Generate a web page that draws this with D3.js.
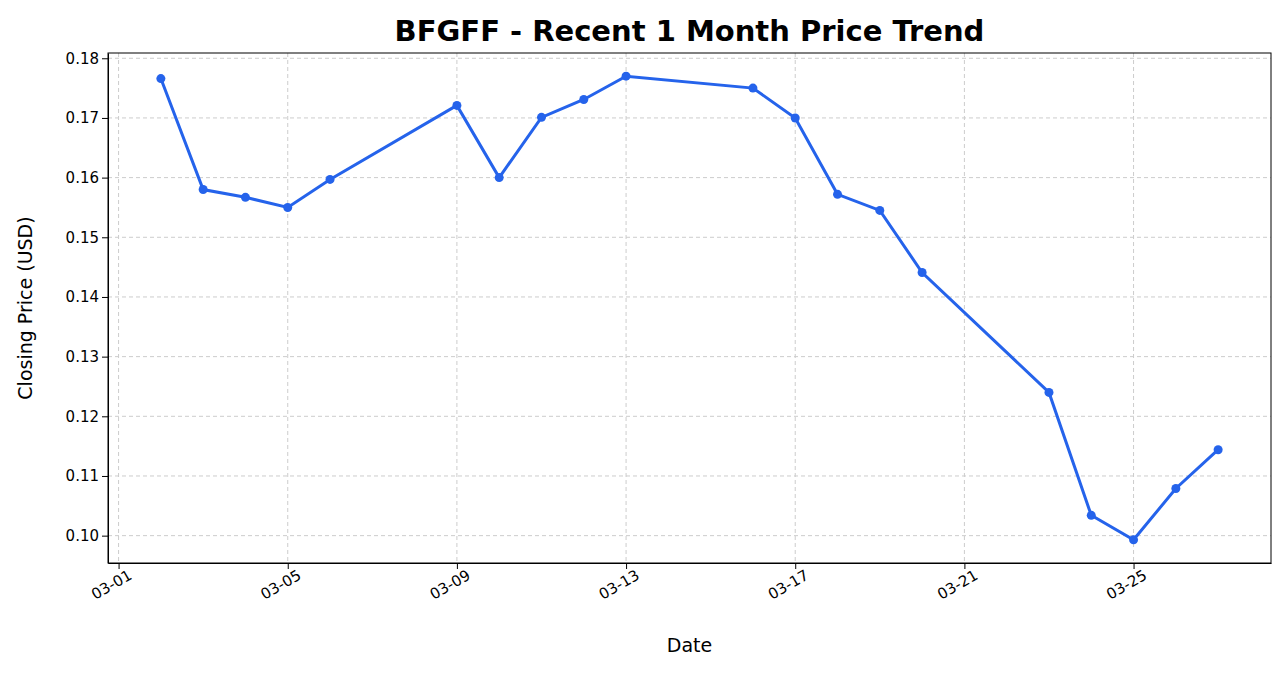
<!DOCTYPE html>
<html><head><meta charset="utf-8">
<script src="https://cdn.jsdelivr.net/npm/d3@7"></script>
<style>body{margin:0;background:#fff;font-family:"DejaVu Sans",sans-serif}
.tick text{font-size:15px;font-family:"DejaVu Sans",sans-serif;fill:#000}</style>
</head><body>
<svg id="chart"></svg>
<script>
// 数据
const dates = ["2025-03-02","2025-03-03","2025-03-04","2025-03-05","2025-03-06","2025-03-09","2025-03-10","2025-03-11","2025-03-12","2025-03-13","2025-03-16","2025-03-17","2025-03-18","2025-03-19","2025-03-20","2025-03-23","2025-03-24","2025-03-25","2025-03-26","2025-03-27"];
const prices = [0.1766,0.158,0.1567,0.155,0.1597,0.1721,0.160,0.1701,0.1731,0.177,0.175,0.170,0.1572,0.1545,0.1441,0.124,0.1034,0.0993,0.1079,0.1144];
const xTickDates = ["2025-03-01","2025-03-05","2025-03-09","2025-03-13","2025-03-17","2025-03-21","2025-03-25"];
const yTicks = [0.10,0.11,0.12,0.13,0.14,0.15,0.16,0.17,0.18];

const W = 1285, H = 673;
const margin = { top: 53, right: 14, bottom: 110, left: 108 };
const width = W - margin.left - margin.right;
const height = H - margin.top - margin.bottom;
const parse = d3.utcParse("%Y-%m-%d");
const data = dates.map((d, i) => ({ date: parse(d), price: prices[i] }));

const svg = d3.select("#chart").attr("width", W).attr("height", H);
const g = svg.append("g").attr("transform", `translate(${margin.left},${margin.top})`);

const [x0, x1] = d3.extent(data, d => d.date);
const xPad = (x1 - x0) * 0.05;
const x = d3.scaleUtc().domain([new Date(+x0 - xPad), new Date(+x1 + xPad)]).range([0, width]);
const [y0, y1] = d3.extent(prices);
const yPad = (y1 - y0) * 0.05;
const y = d3.scaleLinear().domain([y0 - yPad, y1 + yPad]).range([height, 0]);
const xTicks = xTickDates.map(parse);

// 网格
g.append("g").selectAll("line").data(xTicks).enter().append("line")
  .attr("x1", d => x(d)).attr("x2", d => x(d)).attr("y1", 0).attr("y2", height)
  .attr("stroke", "#ccc").attr("stroke-dasharray", "4,3");
g.append("g").selectAll("line").data(yTicks).enter().append("line")
  .attr("y1", d => y(d)).attr("y2", d => y(d)).attr("x1", 0).attr("x2", width)
  .attr("stroke", "#ccc").attr("stroke-dasharray", "4,3");

// 坐标轴
const xAxis = g.append("g").attr("transform", `translate(0,${height})`)
  .call(d3.axisBottom(x).tickValues(xTicks).tickFormat(d3.utcFormat("%m-%d")).tickSizeOuter(0));
xAxis.selectAll("text").attr("transform", "rotate(-30)").attr("text-anchor", "end")
  .attr("dx", "0.3em").attr("dy", "0.75em");
const yAxis = g.append("g").call(d3.axisLeft(y).tickValues(yTicks).tickFormat(d3.format(".2f")).tickSizeOuter(0));
[xAxis, yAxis].forEach(a => {
  a.attr("font-size", 15).attr("font-family", "DejaVu Sans");
  a.selectAll("line").attr("stroke", "#000");
});
g.append("rect").attr("width", width).attr("height", height).attr("fill", "none").attr("stroke", "#000");

// 折线
g.append("path").datum(data)
  .attr("fill", "none").attr("stroke", "#2563eb").attr("stroke-width", 3)
  .attr("d", d3.line().x(d => x(d.date)).y(d => y(d.price)));
g.selectAll(".dot").data(data).enter().append("circle")
  .attr("cx", d => x(d.date)).attr("cy", d => y(d.price)).attr("r", 4.5).attr("fill", "#2563eb");

// 标题和标签
svg.append("text").attr("x", margin.left + width / 2).attr("y", 41).attr("text-anchor", "middle")
  .style("font-size", "29px").style("font-weight", "bold").text("BFGFF - Recent 1 Month Price Trend");
svg.append("text").attr("x", margin.left + width / 2).attr("y", 652).attr("text-anchor", "middle")
  .style("font-size", "19px").text("Date");
svg.append("text").attr("transform", "rotate(-90)").attr("x", -(margin.top + height / 2)).attr("y", 32)
  .attr("text-anchor", "middle").style("font-size", "19px").text("Closing Price (USD)");
</script>
</body></html>
